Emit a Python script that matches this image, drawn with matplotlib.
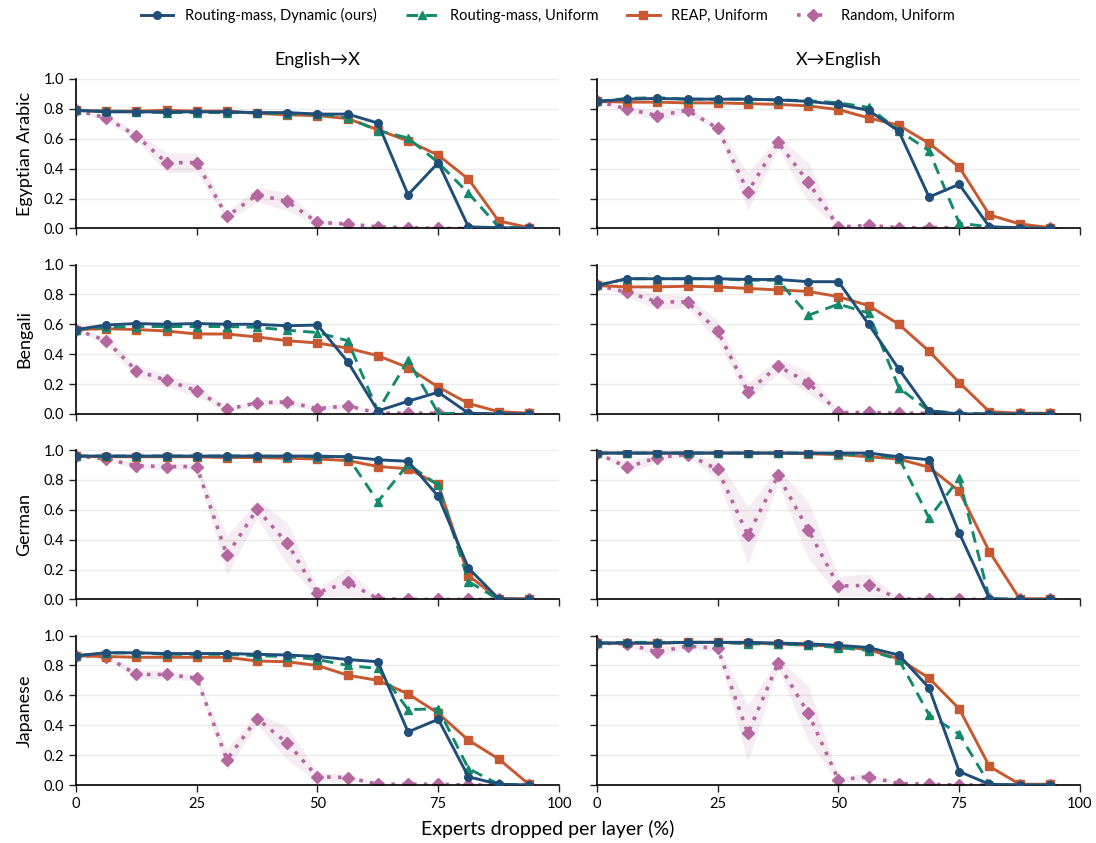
import matplotlib
matplotlib.use("Agg")
import matplotlib.pyplot as plt
import numpy as np

plt.rcParams['font.family'] = ['Lato', 'DejaVu Sans']

x = [0, 6.25, 12.5, 18.75, 25, 31.25, 37.5, 43.75, 50, 56.25, 62.5, 68.75, 75, 81.25, 87.5, 93.75]

languages = ["Egyptian Arabic", "Bengali", "German", "Japanese"]
directions = ["English\u2192X", "X\u2192English"]
methods = ["Routing-mass, Dynamic (ours)", "Routing-mass, Uniform", "REAP, Uniform", "Random, Uniform"]

# ---- English -> X ----
arz_en_dyn = [0.79, 0.78, 0.78, 0.78, 0.78, 0.78, 0.775, 0.775, 0.765, 0.765, 0.705, 0.225, 0.44, 0.01, 0.005, 0.0]
arz_en_uni = [0.79, 0.785, 0.78, 0.775, 0.775, 0.775, 0.775, 0.765, 0.765, 0.74, 0.655, 0.605, 0.44, 0.235, 0.01, 0.0]
arz_en_reap = [0.79, 0.785, 0.785, 0.79, 0.785, 0.785, 0.77, 0.76, 0.755, 0.735, 0.66, 0.585, 0.49, 0.33, 0.05, 0.005]
arz_en_rand = [0.79, 0.74, 0.62, 0.44, 0.44, 0.08, 0.225, 0.18, 0.04, 0.03, 0.01, 0.005, 0.0, 0.0, 0.0, 0.0]
arz_en_rand_sd = [0.0, 0.02, 0.03, 0.065, 0.065, 0.03, 0.05, 0.06, 0.02, 0.01, 0.005, 0.0, 0.0, 0.0, 0.0, 0.0]

ben_en_dyn = [0.565, 0.595, 0.605, 0.60, 0.605, 0.60, 0.60, 0.59, 0.595, 0.35, 0.02, 0.085, 0.145, 0.005, 0.0, 0.0]
ben_en_uni = [0.565, 0.58, 0.585, 0.585, 0.585, 0.585, 0.58, 0.56, 0.545, 0.49, 0.02, 0.36, 0.005, 0.0, 0.0, 0.0]
ben_en_reap = [0.565, 0.57, 0.565, 0.555, 0.535, 0.535, 0.515, 0.49, 0.475, 0.44, 0.39, 0.31, 0.18, 0.07, 0.015, 0.005]
ben_en_rand = [0.565, 0.49, 0.29, 0.225, 0.155, 0.03, 0.075, 0.08, 0.035, 0.055, 0.005, 0.005, 0.005, 0.0, 0.0, 0.0]
ben_en_rand_sd = [0.0, 0.03, 0.04, 0.04, 0.04, 0.015, 0.02, 0.02, 0.015, 0.02, 0.005, 0.0, 0.0, 0.0, 0.0, 0.0]

deu_en_dyn = [0.96, 0.96, 0.96, 0.96, 0.96, 0.96, 0.96, 0.96, 0.96, 0.955, 0.935, 0.925, 0.69, 0.21, 0.005, 0.0]
deu_en_uni = [0.96, 0.96, 0.96, 0.96, 0.96, 0.96, 0.96, 0.955, 0.955, 0.955, 0.655, 0.905, 0.765, 0.12, 0.0, 0.0]
deu_en_reap = [0.96, 0.955, 0.955, 0.955, 0.955, 0.95, 0.95, 0.945, 0.94, 0.93, 0.89, 0.875, 0.77, 0.16, 0.005, 0.005]
deu_en_rand = [0.96, 0.94, 0.895, 0.89, 0.89, 0.295, 0.605, 0.375, 0.045, 0.115, 0.005, 0.0, 0.0, 0.0, 0.0, 0.0]
deu_en_rand_sd = [0.0, 0.01, 0.02, 0.02, 0.02, 0.13, 0.06, 0.14, 0.03, 0.09, 0.005, 0.0, 0.0, 0.0, 0.0, 0.0]

jpn_en_dyn = [0.865, 0.885, 0.885, 0.88, 0.88, 0.88, 0.875, 0.87, 0.86, 0.84, 0.825, 0.355, 0.44, 0.055, 0.005, 0.0]
jpn_en_uni = [0.865, 0.885, 0.885, 0.875, 0.875, 0.875, 0.865, 0.86, 0.84, 0.80, 0.78, 0.505, 0.51, 0.11, 0.005, 0.0]
jpn_en_reap = [0.865, 0.86, 0.855, 0.855, 0.855, 0.855, 0.83, 0.825, 0.80, 0.735, 0.70, 0.61, 0.48, 0.30, 0.175, 0.005]
jpn_en_rand = [0.865, 0.86, 0.74, 0.74, 0.715, 0.17, 0.445, 0.28, 0.055, 0.05, 0.005, 0.005, 0.005, 0.0, 0.0, 0.0]
jpn_en_rand_sd = [0.0, 0.01, 0.03, 0.03, 0.02, 0.07, 0.04, 0.11, 0.03, 0.02, 0.005, 0.0, 0.0, 0.0, 0.0, 0.0]

# ---- X -> English ----
arz_xe_dyn = [0.85, 0.865, 0.87, 0.865, 0.865, 0.865, 0.86, 0.85, 0.83, 0.79, 0.65, 0.21, 0.295, 0.01, 0.005, 0.0]
arz_xe_uni = [0.85, 0.87, 0.875, 0.865, 0.865, 0.865, 0.86, 0.855, 0.84, 0.81, 0.655, 0.52, 0.035, 0.01, 0.0, 0.0]
arz_xe_reap = [0.85, 0.845, 0.845, 0.84, 0.84, 0.835, 0.83, 0.82, 0.795, 0.74, 0.69, 0.57, 0.41, 0.09, 0.03, 0.005]
arz_xe_rand = [0.85, 0.80, 0.755, 0.79, 0.67, 0.245, 0.575, 0.31, 0.01, 0.02, 0.005, 0.005, 0.005, 0.0, 0.0, 0.0]
arz_xe_rand_sd = [0.0, 0.02, 0.035, 0.02, 0.02, 0.125, 0.04, 0.13, 0.01, 0.01, 0.005, 0.0, 0.0, 0.0, 0.0, 0.0]

ben_xe_dyn = [0.86, 0.905, 0.905, 0.905, 0.905, 0.90, 0.90, 0.885, 0.885, 0.60, 0.30, 0.02, 0.0, 0.0, 0.0, 0.0]
ben_xe_uni = [0.86, 0.905, 0.905, 0.905, 0.905, 0.895, 0.895, 0.66, 0.735, 0.675, 0.175, 0.02, 0.005, 0.0, 0.0, 0.0]
ben_xe_reap = [0.86, 0.85, 0.85, 0.855, 0.85, 0.84, 0.83, 0.82, 0.785, 0.725, 0.60, 0.42, 0.21, 0.015, 0.005, 0.005]
ben_xe_rand = [0.86, 0.815, 0.75, 0.75, 0.555, 0.15, 0.32, 0.21, 0.01, 0.01, 0.005, 0.005, 0.0, 0.0, 0.0, 0.0]
ben_xe_rand_sd = [0.0, 0.03, 0.05, 0.04, 0.07, 0.06, 0.05, 0.075, 0.01, 0.01, 0.005, 0.0, 0.0, 0.0, 0.0, 0.0]

deu_xe_dyn = [0.98, 0.98, 0.98, 0.98, 0.98, 0.98, 0.98, 0.98, 0.98, 0.98, 0.955, 0.935, 0.445, 0.005, 0.0, 0.0]
deu_xe_uni = [0.98, 0.98, 0.98, 0.98, 0.98, 0.98, 0.98, 0.98, 0.975, 0.965, 0.95, 0.545, 0.81, 0.005, 0.0, 0.0]
deu_xe_reap = [0.98, 0.98, 0.98, 0.98, 0.98, 0.98, 0.98, 0.975, 0.97, 0.955, 0.94, 0.885, 0.725, 0.32, 0.005, 0.005]
deu_xe_rand = [0.98, 0.885, 0.95, 0.97, 0.87, 0.43, 0.83, 0.465, 0.09, 0.095, 0.005, 0.0, 0.0, 0.0, 0.0, 0.0]
deu_xe_rand_sd = [0.0, 0.04, 0.03, 0.01, 0.065, 0.19, 0.05, 0.19, 0.065, 0.075, 0.005, 0.0, 0.0, 0.0, 0.0, 0.0]

jpn_xe_dyn = [0.95, 0.95, 0.95, 0.955, 0.955, 0.955, 0.95, 0.945, 0.935, 0.92, 0.87, 0.65, 0.09, 0.005, 0.0, 0.0]
jpn_xe_uni = [0.95, 0.955, 0.955, 0.955, 0.955, 0.945, 0.945, 0.935, 0.92, 0.90, 0.84, 0.47, 0.34, 0.005, 0.0, 0.0]
jpn_xe_reap = [0.95, 0.95, 0.95, 0.955, 0.955, 0.95, 0.945, 0.935, 0.93, 0.905, 0.845, 0.715, 0.51, 0.125, 0.005, 0.005]
jpn_xe_rand = [0.95, 0.945, 0.89, 0.93, 0.915, 0.345, 0.815, 0.48, 0.035, 0.055, 0.01, 0.005, 0.0, 0.0, 0.0, 0.0]
jpn_xe_rand_sd = [0.0, 0.01, 0.035, 0.02, 0.02, 0.19, 0.03, 0.185, 0.02, 0.025, 0.005, 0.0, 0.0, 0.0, 0.0, 0.0]

panels = [
    [(arz_en_dyn, arz_en_uni, arz_en_reap, arz_en_rand, arz_en_rand_sd),
     (arz_xe_dyn, arz_xe_uni, arz_xe_reap, arz_xe_rand, arz_xe_rand_sd)],
    [(ben_en_dyn, ben_en_uni, ben_en_reap, ben_en_rand, ben_en_rand_sd),
     (ben_xe_dyn, ben_xe_uni, ben_xe_reap, ben_xe_rand, ben_xe_rand_sd)],
    [(deu_en_dyn, deu_en_uni, deu_en_reap, deu_en_rand, deu_en_rand_sd),
     (deu_xe_dyn, deu_xe_uni, deu_xe_reap, deu_xe_rand, deu_xe_rand_sd)],
    [(jpn_en_dyn, jpn_en_uni, jpn_en_reap, jpn_en_rand, jpn_en_rand_sd),
     (jpn_xe_dyn, jpn_xe_uni, jpn_xe_reap, jpn_xe_rand, jpn_xe_rand_sd)],
]

c_dyn = "#1f4e79"
c_uni = "#138a6b"
c_reap = "#c8582f"
c_rand = "#b5679f"

fig, axes = plt.subplots(4, 2, figsize=(10.96, 8.43), dpi=100, sharex=True, sharey=True)
fig.subplots_adjust(left=0.0693, right=0.9854, top=0.9063, bottom=0.0688, wspace=0.0785, hspace=0.242)

handles = None
for r in range(4):
    for c in range(2):
        ax = axes[r, c]
        dyn, uni, reap, rand, sd = panels[r][c]
        rand_a = np.array(rand)
        sd_a = np.array(sd)
        ax.fill_between(x, np.clip(rand_a - sd_a, 0, None), rand_a + sd_a,
                        color=c_rand, alpha=0.12, linewidth=0, zorder=1)
        h4, = ax.plot(x, rand, color=c_rand, linestyle=(0, (1, 2.0)), linewidth=2.6,
                      marker="D", markersize=6.2, zorder=2)
        h3, = ax.plot(x, reap, color=c_reap, linestyle="-", linewidth=2.1,
                      marker="s", markersize=5.5, zorder=3)
        h2, = ax.plot(x, uni, color=c_uni, linestyle=(0, (4, 2.5)), linewidth=2.1,
                      marker="^", markersize=6, zorder=4)
        h1, = ax.plot(x, dyn, color=c_dyn, linestyle="-", linewidth=2.1,
                      marker="o", markersize=5.5, zorder=5)
        handles = [h1, h2, h3, h4]
        ax.set_xlim(0, 100)
        ax.set_ylim(0, 1.0)
        ax.set_xticks([0, 25, 50, 75, 100])
        ax.set_yticks([0.0, 0.2, 0.4, 0.6, 0.8, 1.0])
        ax.yaxis.grid(True, color="#ebebeb", linewidth=1.0)
        ax.set_axisbelow(True)
        for s in ["top", "right"]:
            ax.spines[s].set_visible(False)
        ax.spines["left"].set_linewidth(1.2)
        ax.spines["bottom"].set_linewidth(1.2)
        ax.tick_params(axis="both", labelsize=10.5, length=5, width=1.0, color="#222222")
        if c == 0:
            ax.set_ylabel(languages[r], fontsize=13, labelpad=8)
        if r == 0:
            ax.set_title(directions[c], fontsize=13, pad=10)

fig.text(0.5, 0.006, "Experts dropped per layer (%)", ha="center", va="bottom", fontsize=14)
fig.legend(handles, methods, loc="upper center", ncol=4, frameon=False,
           bbox_to_anchor=(0.5, 1.006), fontsize=10.5, handlelength=2.2, columnspacing=2.0)

fig.savefig("out.png", dpi=100)
